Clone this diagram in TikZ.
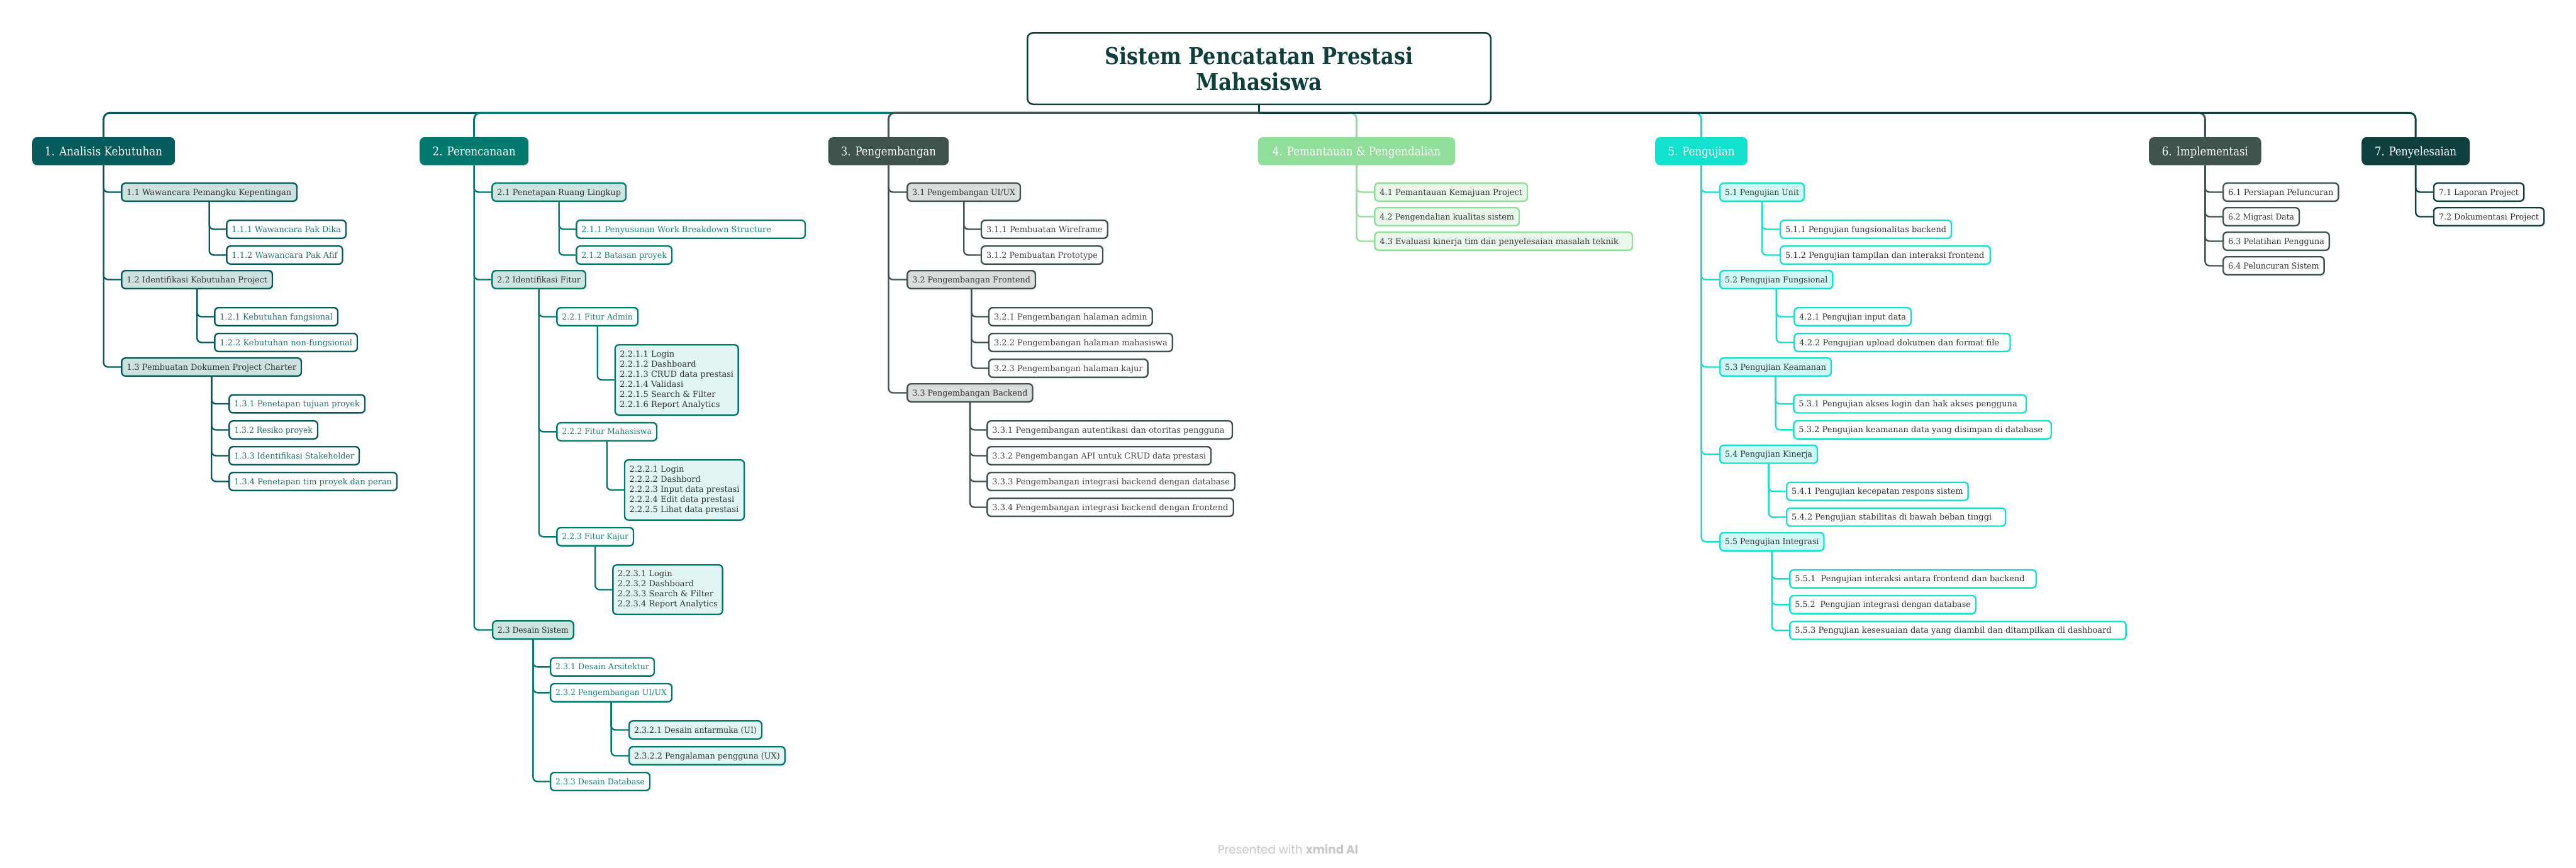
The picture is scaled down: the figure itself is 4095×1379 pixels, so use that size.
\documentclass[tikz,border=0pt]{standalone}
\usepackage{fontspec}
\usepackage{graphicx}
\setmainfont{DejaVu Serif}
\newfontfamily\fpop{Poppins}
\definecolor{ctitle}{HTML}{0F3F3D}
\definecolor{c1}{HTML}{065C5C}
\definecolor{c1f}{HTML}{CDE1DF}
\definecolor{c1t}{HTML}{23706E}
\definecolor{c2}{HTML}{007A6F}
\definecolor{c2f}{HTML}{CCE5E1}
\definecolor{c2g}{HTML}{E1F5F2}
\definecolor{c2t}{HTML}{17847A}
\definecolor{c3}{HTML}{3F524D}
\definecolor{c3f}{HTML}{D9DDDB}
\definecolor{c4}{HTML}{91DE9B}
\definecolor{c4f}{HTML}{E9F8EB}
\definecolor{c5}{HTML}{12E2CD}
\definecolor{c5f}{HTML}{CFF9F4}
\definecolor{c6}{HTML}{41534F}
\definecolor{c7}{HTML}{0F403F}
\definecolor{tdark}{HTML}{333333}
\definecolor{tgray}{HTML}{444444}
\definecolor{footc}{HTML}{C8C8C8}
\newsavebox\fitbox
\newlength\fitw
\newcommand\fitto[2]{\setlength\fitw{#1}\sbox\fitbox{#2}\ifdim\wd\fitbox>\fitw\resizebox{\fitw}{\height}{\usebox\fitbox}\else\usebox\fitbox\fi}
% name, style, left, right, cy, text
\newcommand\lv[6]{%
  \pgfmathsetmacro\mynw{#4-#3-2.4}%
  \pgfmathsetmacro\mytw{#4-#3-2.4-16}%
  \node[lvbox,#2,minimum width=\mynw pt] (#1) at ({#3+1.2},#5) {\makebox[\mytw pt][l]{\fitto{\mytw pt}{#6}}};%
}
% name, style, left, right, top, bottom, text
\newcommand\ml[7]{%
  \pgfmathsetmacro\mynw{#4-#3-2.4}%
  \pgfmathsetmacro\mynh{#6-#5-2.4}%
  \node[mlbox,#2,minimum width=\mynw pt,minimum height=\mynh pt] (#1) at ({#3+1.2},{(#5+#6)/2}) {#7};%
}
% name, colour, left, right, text, text width
\newcommand\hd[6]{%
  \pgfmathsetmacro\mynw{#4-#3}%
  \node[hdbox,fill=#2,minimum width=\mynw pt] (#1) at (#3,240.35) {\resizebox{#6pt}{\height}{#5}};%
}
\begin{document}
\begin{tikzpicture}[x=1pt,y=-1pt,
  lvbox/.style={anchor=west, rounded corners=6pt, line width=2.4pt, inner xsep=8pt, inner ysep=0pt, minimum height=28.6pt, text height=9.5pt, text depth=0.5pt, font=\fontsize{13pt}{16pt}\selectfont},
  mlbox/.style={anchor=west, rounded corners=6pt, line width=2.4pt, inner xsep=7.5pt, inner ysep=0pt, align=left, font=\fontsize{13pt}{16pt}\selectfont},
  hdbox/.style={anchor=west, rounded corners=8pt, minimum height=44.7pt, inner sep=0pt, text=white, font=\fontsize{19pt}{22pt}\selectfont, text height=15pt, text depth=0.4pt},
  con/.style={line width=2.4pt, rounded corners=7pt},
  busl/.style={line width=3pt, rounded corners=10pt},
  b1a/.style={fill=c1f, draw=c1, text=tdark},
  b1b/.style={fill=white, draw=c1, text=c1t},
  b2a/.style={fill=c2f, draw=c2, text=tdark},
  b2b/.style={fill=white, draw=c2, text=c2t},
  b2c/.style={fill=c2g, draw=c2, text=tdark},
  b3a/.style={fill=c3f, draw=c3, text=tdark},
  b3b/.style={fill=white, draw=c3, text=tgray},
  b4a/.style={fill=c4f, draw=c4, text=tdark},
  b5a/.style={fill=c5f, draw=c5, text=tdark},
  b5b/.style={fill=white, draw=c5, text=tdark},
  b6a/.style={fill=white, draw=c6, text=tdark},
  b7a/.style={fill=white, draw=c7, text=tdark}
]
\fill[white] (0,0) rectangle (4095,1379);
\path[use as bounding box] (0,0) rectangle (4095,1379);

% root
\node[draw=ctitle, line width=2.5pt, fill=white, rounded corners=9pt, minimum width=736.5pt, minimum height=113.5pt, inner sep=0pt, align=center, text=ctitle, font=\fontsize{37pt}{41pt}\selectfont\bfseries] (root) at (2001.5,109) {\resizebox{490pt}{\height}{Sistem Pencatatan Prestasi}\\\resizebox{201pt}{\height}{Mahasiswa}};
\coordinate (bus) at (2001.5,179.3);

% headings
\hd{b1}{c1}{51}{278}{1. Analisis Kebutuhan}{187}
\hd{b2}{c2}{667}{840}{2. Perencanaan}{132}
\hd{b3}{c3}{1316.5}{1508}{3. Pengembangan}{151}
\hd{b4}{c4}{1999.5}{2313}{4. Pemantauan \& Pengendalian}{267}
\hd{b5}{c5}{2631}{2777.7}{5. Pengujian}{106}
\hd{b6}{c6}{3416}{3594.3}{6. Implementasi}{137}
\hd{b7}{c7}{3754}{3925.8}{7. Penyelesaian}{130}

% branch 1
\lv{n11}{b1a}{191}{472}{305.5}{1.1 Wawancara Pemangku Kepentingan}
\lv{n111}{b1b}{358}{550}{364.5}{1.1.1 Wawancara Pak Dika}
\lv{n112}{b1b}{358}{544.5}{405.5}{1.1.2 Wawancara Pak Afif}
\lv{n12}{b1a}{191}{433}{444.5}{1.2 Identifikasi Kebutuhan Project}
\lv{n121}{b1b}{339}{537}{503.5}{1.2.1 Kebutuhan fungsional}
\lv{n122}{b1b}{339}{568}{544.5}{1.2.2 Kebutuhan non-fungsional}
\lv{n13}{b1a}{191}{479}{583.5}{1.3 Pembuatan Dokumen Project Charter}
\lv{n131}{b1b}{362}{580}{642}{1.3.1 Penetapan tujuan proyek}
\lv{n132}{b1b}{362}{505}{683.5}{1.3.2 Resiko proyek}
\lv{n133}{b1b}{362}{571}{724.5}{1.3.3 Identifikasi Stakeholder}
\lv{n134}{b1b}{362}{631}{765.5}{1.3.4 Penetapan tim proyek dan peran}

% branch 2
\lv{n21}{b2a}{780}{995}{305.5}{2.1 Penetapan Ruang Lingkup}
\lv{n211}{b2b}{914}{1280}{364.5}{2.1.1 Penyusunan Work Breakdown Structure}
\lv{n212}{b2b}{914}{1068}{405.5}{2.1.2 Batasan proyek}
\lv{n22}{b2a}{780}{931}{444.5}{2.2 Identifikasi Fitur}
\lv{n221}{b2b}{883}{1014}{503.5}{2.2.1 Fitur Admin}
\ml{n2211}{b2c}{975.5}{1164}{547}{661}{2.2.1.1 Login\\2.2.1.2 Dashboard\\2.2.1.3 CRUD data prestasi\\2.2.1.4 Validasi\\2.2.1.5 Search \& Filter\\2.2.1.6 Report Analytics}
\lv{n222}{b2b}{883}{1044}{686.4}{2.2.2 Fitur Mahasiswa}
\ml{n2221}{b2c}{990.6}{1177.6}{730}{828}{2.2.2.1 Login\\2.2.2.2 Dashbord\\2.2.2.3 Input data prestasi\\2.2.2.4 Edit data prestasi\\2.2.2.5 Lihat data prestasi}
\lv{n223}{b2b}{883}{1007}{853.3}{2.2.3 Fitur Kajur}
\ml{n2231}{b2c}{972}{1144}{897}{978}{2.2.3.1 Login\\2.2.3.2 Dashboard\\2.2.3.3 Search \& Filter\\2.2.3.4 Report Analytics}
\lv{n23}{b2a}{780.7}{911.7}{1001.5}{2.3 Desain Sistem}
\lv{n231}{b2b}{872.7}{1040}{1060.3}{2.3.1 Desain Arsitektur}
\lv{n232}{b2b}{872.7}{1068}{1101.3}{2.3.2 Pengembangan UI/UX}
\lv{n2321}{b2c}{997.7}{1211}{1160.5}{2.3.2.1 Desain antarmuka (UI)}
\lv{n2322}{b2c}{997.7}{1247.8}{1201.5}{2.3.2.2 Pengalaman pengguna (UX)}
\lv{n233}{b2b}{872.7}{1033}{1242.5}{2.3.3 Desain Database}

% branch 3
\lv{n31}{b3a}{1440}{1622}{305.5}{3.1 Pengembangan UI/UX}
\lv{n311}{b3b}{1557.6}{1760.7}{364.5}{3.1.1 Pembuatan Wireframe}
\lv{n312}{b3b}{1557.6}{1753}{405.5}{3.1.2 Pembuatan Prototype}
\lv{n32}{b3a}{1440}{1646}{444.5}{3.2 Pengembangan Frontend}
\lv{n321}{b3b}{1569.6}{1831.7}{503.5}{3.2.1 Pengembangan halaman admin}
\lv{n322}{b3b}{1569.6}{1863.8}{544.5}{3.2.2 Pengembangan halaman mahasiswa}
\lv{n323}{b3b}{1569.6}{1824.6}{585.5}{3.2.3 Pengembangan halaman kajur}
\lv{n33}{b3a}{1440}{1641.5}{624.5}{3.3 Pengembangan Backend}
\lv{n331}{b3b}{1567}{1959}{683.5}{3.3.1 Pengembangan autentikasi dan otoritas pengguna}
\lv{n332}{b3b}{1567}{1925}{724.5}{3.3.2 Pengembangan API untuk CRUD data prestasi}
\lv{n333}{b3b}{1567}{1963}{765.5}{3.3.3 Pengembangan integrasi backend dengan database}
\lv{n334}{b3b}{1567}{1960.7}{806.5}{3.3.4 Pengembangan integrasi backend dengan frontend}

% branch 4
\lv{n41}{b4a}{2183}{2428}{305.5}{4.1 Pemantauan Kemajuan Project}
\lv{n42}{b4a}{2183}{2415}{344.5}{4.2 Pengendalian kualitas sistem}
\lv{n43}{b4a}{2183}{2595}{383.5}{4.3 Evaluasi kinerja tim dan penyelesaian masalah teknik}

% branch 5
\lv{n51}{b5a}{2731.7}{2868}{305.5}{5.1 Pengujian Unit}
\lv{n511}{b5b}{2827.7}{3102}{364.5}{5.1.1 Pengujian fungsionalitas backend}
\lv{n512}{b5b}{2827.7}{3163.8}{405.5}{5.1.2 Pengujian tampilan dan interaksi frontend}
\lv{n52}{b5a}{2731.7}{2913.4}{444.5}{5.2 Pengujian Fungsional}
\lv{n521}{b5b}{2850}{3038}{503.5}{4.2.1 Pengujian input data}
\lv{n522}{b5b}{2850}{3195.5}{544.5}{4.2.2 Pengujian upload dokumen dan format file}
\lv{n53}{b5a}{2731.7}{2911}{583.5}{5.3 Pengujian Keamanan}
\lv{n531}{b5b}{2849}{3221}{642.2}{5.3.1 Pengujian akses login dan hak akses pengguna}
\lv{n532}{b5b}{2849}{3260.7}{683.3}{5.3.2 Pengujian keamanan data yang disimpan di database}
\lv{n54}{b5a}{2731.7}{2889}{722.2}{5.4 Pengujian Kinerja}
\lv{n541}{b5b}{2837.8}{3128.6}{781.2}{5.4.1 Pengujian kecepatan respons sistem}
\lv{n542}{b5b}{2837.8}{3188}{822.2}{5.4.2 Pengujian stabilitas di bawah beban tinggi}
\lv{n55}{b5a}{2731.7}{2899.5}{861.3}{5.5 Pengujian Integrasi}
\lv{n551}{b5b}{2842.9}{3236.7}{920.3}{5.5.1\ \ Pengujian interaksi antara frontend dan backend}
\lv{n552}{b5b}{2842.9}{3140.8}{961.3}{5.5.2\ \ Pengujian integrasi dengan database}
\lv{n553}{b5b}{2842.9}{3379.6}{1002.2}{5.5.3 Pengujian kesesuaian data yang diambil dan ditampilkan di dashboard}

% branch 6
\lv{n61}{b6a}{3531.8}{3717.4}{305.5}{6.1 Persiapan Peluncuran}
\lv{n62}{b6a}{3531.8}{3655}{344.5}{6.2 Migrasi Data}
\lv{n63}{b6a}{3531.8}{3702.8}{383.5}{6.3 Pelatihan Pengguna}
\lv{n64}{b6a}{3531.8}{3694.6}{422.5}{6.4 Peluncuran Sistem}

% branch 7
\lv{n71}{b7a}{3866.5}{4012}{305.5}{7.1 Laporan Project}
\lv{n72}{b7a}{3866.5}{4044}{344.5}{7.2 Dokumentasi Project}

% bus connectors
\draw[line width=3pt, ctitle] (root.south) -- (bus);
\draw[busl, c1] (bus) -| (b1.north);
\draw[busl, c2] (bus) -| (b2.north);
\draw[busl, c3] (bus) -| (b3.north);
\draw[busl, c4] (bus) -| (b4.north);
\draw[busl, c5] (bus) -| (b5.north);
\draw[busl, c6] (bus) -| (b6.north);
\draw[busl, c7] (bus) -| (b7.north);

% sub connectors
\foreach \p/\c in {b1/n11,b1/n12,b1/n13,n11/n111,n11/n112,n12/n121,n12/n122,n13/n131,n13/n132,n13/n133,n13/n134}
  \draw[con, c1] (\p.south) |- (\c.west);
\foreach \p/\c in {b2/n21,b2/n22,b2/n23,n21/n211,n21/n212,n22/n221,n22/n222,n22/n223,n221/n2211,n222/n2221,n223/n2231,n23/n231,n23/n232,n23/n233,n232/n2321,n232/n2322}
  \draw[con, c2] (\p.south) |- (\c.west);
\foreach \p/\c in {b3/n31,b3/n32,b3/n33,n31/n311,n31/n312,n32/n321,n32/n322,n32/n323,n33/n331,n33/n332,n33/n333,n33/n334}
  \draw[con, c3] (\p.south) |- (\c.west);
\foreach \p/\c in {b4/n41,b4/n42,b4/n43}
  \draw[con, c4] (\p.south) |- (\c.west);
\foreach \p/\c in {b5/n51,b5/n52,b5/n53,b5/n54,b5/n55,n51/n511,n51/n512,n52/n521,n52/n522,n53/n531,n53/n532,n54/n541,n54/n542,n55/n551,n55/n552,n55/n553}
  \draw[con, c5] (\p.south) |- (\c.west);
\foreach \p/\c in {b6/n61,b6/n62,b6/n63,b6/n64}
  \draw[con, c6] (\p.south) |- (\c.west);
\foreach \p/\c in {b7/n71,b7/n72}
  \draw[con, c7] (\p.south) |- (\c.west);

% footer
\node[anchor=base, text=footc, inner sep=0pt] (foot) at (2047.5,1357) {\resizebox{223pt}{\height}{\fpop\fontsize{19pt}{22pt}\selectfont Presented with \textbf{xmind AI}}};
\end{tikzpicture}
\end{document}
